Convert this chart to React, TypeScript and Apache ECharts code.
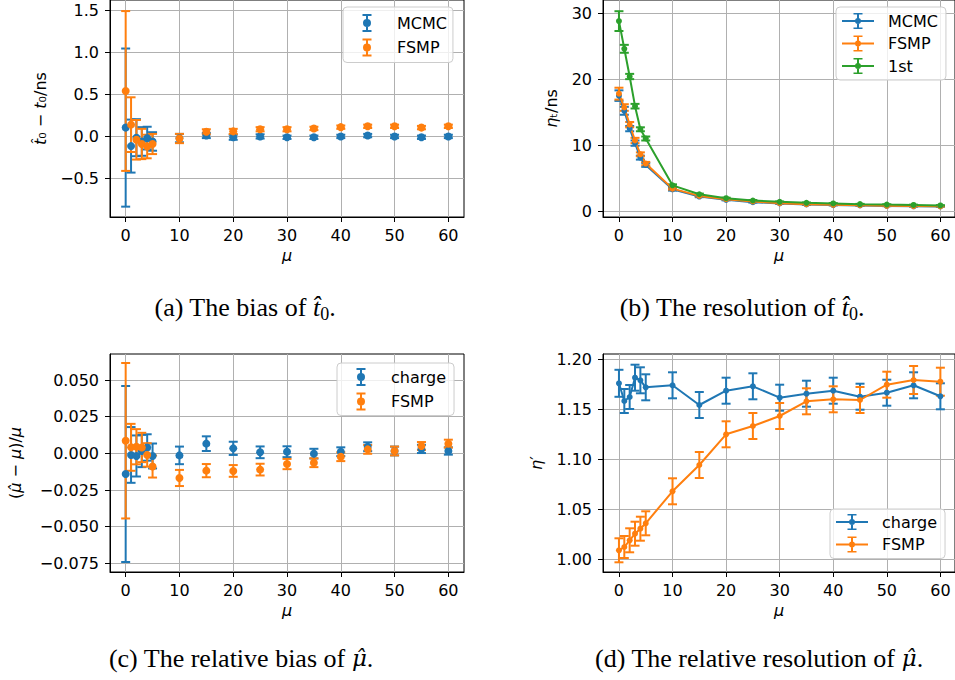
import { useEffect, useRef } from 'react';
import * as echarts from 'echarts';

// ---------------- data ----------------
const MU = [0, 1, 2, 3, 4, 5, 10, 15, 20, 25, 30, 35, 40, 45, 50, 55, 60];

// (a) bias of t0
const biasT0MCMC = [0.105, -0.115, -0.015, -0.06, -0.02, -0.06, -0.02, 0.01, -0.01, 0.0, -0.01, -0.01, 0.0, 0.01, 0.0, -0.01, 0.0];
const biasT0MCMCErr = [0.94, 0.315, 0.22, 0.17, 0.135, 0.11, 0.05, 0.03, 0.03, 0.025, 0.02, 0.02, 0.02, 0.02, 0.02, 0.02, 0.02];
const biasT0FSMP = [0.54, 0.14, -0.04, -0.09, -0.12, -0.09, -0.025, 0.055, 0.06, 0.085, 0.085, 0.095, 0.11, 0.12, 0.12, 0.105, 0.12];
const biasT0FSMPErr = [0.95, 0.325, 0.235, 0.18, 0.14, 0.12, 0.055, 0.03, 0.03, 0.025, 0.025, 0.02, 0.02, 0.02, 0.02, 0.02, 0.02];

// (b) resolution of t0
const resT0MCMC = [17.5, 15.2, 12.5, 10.3, 8.1, 7.0, 3.3, 2.2, 1.7, 1.35, 1.15, 1.0, 0.9, 0.85, 0.78, 0.72, 0.7];
const resT0MCMCErr = [0.8, 0.6, 0.4, 0.4, 0.3, 0.3, 0.2, 0.1, 0.08, 0.07, 0.06, 0.05, 0.05, 0.04, 0.04, 0.04, 0.04];
const resT0FSMP = [17.8, 15.7, 13.1, 10.7, 8.6, 7.2, 3.4, 2.3, 1.8, 1.45, 1.2, 1.05, 0.95, 0.88, 0.8, 0.75, 0.72];
const resT0FSMPErr = [0.9, 0.5, 0.4, 0.4, 0.3, 0.25, 0.15, 0.1, 0.08, 0.07, 0.06, 0.05, 0.05, 0.04, 0.04, 0.04, 0.04];
const resT01st = [28.8, 24.6, 20.4, 15.9, 12.4, 11.0, 3.9, 2.55, 1.95, 1.6, 1.4, 1.25, 1.15, 1.05, 0.98, 0.93, 0.85];
const resT01stErr = [1.5, 0.6, 0.4, 0.35, 0.3, 0.3, 0.15, 0.1, 0.08, 0.07, 0.06, 0.05, 0.05, 0.04, 0.04, 0.04, 0.04];

// (c) relative bias of mu
const biasMuCharge = [-0.0141, -0.0011, -0.0018, 0.0016, 0.004, -0.0018, -0.0014, 0.0066, 0.0034, 0.0007, 0.0011, -0.0002, 0.0011, 0.0045, 0.0016, 0.003, 0.0016];
const biasMuChargeErr = [0.06, 0.019, 0.014, 0.011, 0.009, 0.0085, 0.006, 0.005, 0.0045, 0.004, 0.0037, 0.0033, 0.003, 0.003, 0.003, 0.0028, 0.0025];
const biasMuFSMP = [0.0086, 0.0041, 0.0045, 0.004, -0.0011, -0.009, -0.0168, -0.0118, -0.012, -0.0111, -0.0073, -0.0064, -0.0023, 0.0027, 0.0016, 0.005, 0.0066];
const biasMuFSMPErr = [0.053, 0.016, 0.012, 0.01, 0.008, 0.0075, 0.0055, 0.0045, 0.004, 0.004, 0.0035, 0.003, 0.003, 0.003, 0.003, 0.0027, 0.0027];

// (d) relative resolution of mu
const resMuCharge = [1.1757, 1.158, 1.162, 1.1813, 1.1787, 1.1717, 1.1737, 1.154, 1.1683, 1.1727, 1.1613, 1.1653, 1.1683, 1.1623, 1.1663, 1.1737, 1.1627];
const resMuChargeErr = [0.0135, 0.012, 0.012, 0.013, 0.013, 0.013, 0.013, 0.013, 0.013, 0.013, 0.013, 0.013, 0.013, 0.013, 0.013, 0.013, 0.013];
const resMuFSMP = [1.0087, 1.012, 1.0187, 1.0253, 1.0303, 1.0357, 1.0677, 1.094, 1.1247, 1.133, 1.143, 1.1577, 1.1597, 1.159, 1.1743, 1.179, 1.1773];
const resMuFSMPErr = [0.012, 0.011, 0.012, 0.012, 0.012, 0.012, 0.013, 0.013, 0.013, 0.013, 0.013, 0.013, 0.013, 0.013, 0.013, 0.014, 0.014];

// tick labels
const xTicks = [0, 10, 20, 30, 40, 50, 60];
const yTicksA = [-0.5, 0, 0.5, 1.0, 1.5];
const yTicksB = [0, 10, 20, 30];
const yTicksC = [-0.075, -0.05, -0.025, 0, 0.025, 0.05];
const yTicksD = [1.0, 1.05, 1.1, 1.15, 1.2];

// ---------------- styling ----------------
const BLUE = '#1f77b4';
const ORANGE = '#ff7f0e';
const GREEN = '#2ca02c';
const FONT = 'DejaVu Sans';
const SERIF = 'Liberation Serif';

const ICON_ERR =
  'path://M0 9L0 9ZM32 9L32 9ZM15 1H17V17H15ZM11.5 0H20.5V2H11.5ZM11.5 16H20.5V18H11.5ZM20 9A4 4 0 1 1 12 9A4 4 0 1 1 20 9Z';
const ICON_LINE_ERR =
  'path://M0 9L0 9ZM32 9L32 9ZM0 8H32V10H0ZM15 1H17V17H15ZM11.5 1H20.5V2.6H11.5ZM11.5 15.4H20.5V17H11.5ZM19 9A3 3 0 1 1 13 9A3 3 0 1 1 19 9Z';

const minusFmt = (d: number) => (v: number) => {
  const s = Math.abs(v).toFixed(d);
  return v < -1e-12 ? '\u2212' + s : s;
};

function renderErr(params: any, api: any) {
  const x = api.value(0);
  const y = api.value(1);
  const e = api.value(2);
  const top = api.coord([x, y + e]);
  const bot = api.coord([x, y - e]);
  const cw = 4.5;
  const style = { stroke: api.visual('color'), lineWidth: 2, fill: 'none' };
  return {
    type: 'group',
    children: [
      { type: 'line', shape: { x1: top[0], y1: top[1], x2: bot[0], y2: bot[1] }, style },
      { type: 'line', shape: { x1: top[0] - cw, y1: top[1], x2: top[0] + cw, y2: top[1] }, style },
      { type: 'line', shape: { x1: bot[0] - cw, y1: bot[1], x2: bot[0] + cw, y2: bot[1] }, style },
    ],
  };
}

function errSeries(name: string, g: number, y: number[], e: number[], color: string) {
  return {
    type: 'custom',
    name: name + ' err' + g,
    xAxisIndex: g,
    yAxisIndex: g,
    data: MU.map((x, i) => [x, y[i], e[i]]),
    renderItem: renderErr,
    encode: { x: 0, y: 1 },
    itemStyle: { color },
    silent: true,
    clip: false,
  };
}

function dotSeries(name: string, g: number, y: number[], color: string) {
  return {
    type: 'scatter',
    name,
    xAxisIndex: g,
    yAxisIndex: g,
    data: MU.map((x, i) => [x, y[i]]),
    symbol: 'circle',
    symbolSize: 8,
    itemStyle: { color, opacity: 1 },
    silent: true,
  };
}

function lineSeries(name: string, g: number, y: number[], color: string) {
  return {
    type: 'line',
    name,
    xAxisIndex: g,
    yAxisIndex: g,
    data: MU.map((x, i) => [x, y[i]]),
    symbol: 'circle',
    symbolSize: 6,
    showSymbol: true,
    lineStyle: { color, width: 2 },
    itemStyle: { color },
    silent: true,
  };
}

function xAxisDef(g: number, min: number, max: number) {
  return {
    type: 'value',
    gridIndex: g,
    min,
    max,
    name: '\u03bc',
    nameLocation: 'middle',
    nameGap: 30,
    nameTextStyle: { fontFamily: FONT, fontSize: 16, fontStyle: 'italic', color: '#000' },
    axisLine: { show: true, onZero: false, lineStyle: { color: '#000', width: 1 } },
    axisTick: { show: true, inside: false, length: 5, customValues: xTicks, lineStyle: { color: '#000', width: 1 } },
    axisLabel: { customValues: xTicks, color: '#000', fontFamily: FONT, fontSize: 16, margin: 10, formatter: (v: number) => String(v) },
    splitLine: { show: true, lineStyle: { color: '#b0b0b0', width: 1 } },
  };
}

function yAxisDef(g: number, min: number, max: number, ticks: number[], fmt: any, name: string, nameGap: number) {
  return {
    type: 'value',
    gridIndex: g,
    min,
    max,
    name,
    nameLocation: 'middle',
    nameGap,
    nameTextStyle: {
      fontFamily: FONT,
      fontSize: 16,
      color: '#000',
      rich: {
        i: { fontFamily: FONT, fontSize: 16, fontStyle: 'italic', color: '#000' },
        n: { fontFamily: FONT, fontSize: 16, color: '#000' },
      },
    },
    axisLine: { show: true, onZero: false, lineStyle: { color: '#000', width: 1 } },
    axisTick: { show: true, inside: false, length: 5, customValues: ticks, lineStyle: { color: '#000', width: 1 } },
    axisLabel: { customValues: ticks, color: '#000', fontFamily: FONT, fontSize: 16, margin: 11, formatter: fmt },
    splitLine: { show: true, lineStyle: { color: '#b0b0b0', width: 1 } },
  };
}

function legendDef(items: any[], left: number, top: number, padding: number[]) {
  return {
    orient: 'vertical',
    left,
    top,
    data: items,
    itemWidth: 32,
    itemHeight: 18,
    itemGap: 6.5,
    padding,
    backgroundColor: 'rgba(255,255,255,0.8)',
    borderColor: '#cccccc',
    borderWidth: 1,
    borderRadius: 4,
    selectedMode: false,
    itemStyle: { borderWidth: 0 },
    textStyle: { fontFamily: FONT, fontSize: 16, color: '#000', padding: [0, 0, 0, 9] },
  };
}

function caption(x: number, y: number, text: string) {
  return {
    type: 'text',
    x,
    y,
    silent: true,
    style: {
      text,
      align: 'center',
      verticalAlign: 'middle',
      fontFamily: SERIF,
      fontSize: 26,
      lineHeight: 32,
      fill: '#000',
      rich: {
        it: { fontFamily: SERIF, fontSize: 26, fontStyle: 'italic', lineHeight: 32, fill: '#000' },
        itg: { fontFamily: 'DejaVu Serif', fontSize: 23, fontStyle: 'italic', lineHeight: 32, fill: '#000' },
        sub: { fontFamily: SERIF, fontSize: 18, lineHeight: 17, verticalAlign: 'bottom', fill: '#000' },
      },
    },
  };
}

export default function App() {
  const ref = useRef<HTMLDivElement>(null);

  useEffect(() => {
    if (!ref.current) return;
    const chart = echarts.init(ref.current, undefined, { renderer: 'svg' });

    const gridStyle = { show: true, borderColor: '#000', borderWidth: 1, backgroundColor: 'transparent' };

    const option: any = {
      animation: false,
      textStyle: { fontFamily: FONT },
      grid: [
        { ...gridStyle, left: 110, top: -2, width: 354, height: 219 },
        { ...gridStyle, left: 603, top: -2, width: 353, height: 219 },
        { ...gridStyle, left: 110, top: 354, width: 354, height: 218 },
        { ...gridStyle, left: 603, top: 354, width: 353, height: 218 },
      ],
      xAxis: [
        xAxisDef(0, -2.914, 62.91),
        xAxisDef(1, -2.978, 62.73),
        xAxisDef(2, -2.914, 62.91),
        xAxisDef(3, -2.978, 62.73),
      ],
      yAxis: [
        yAxisDef(0, -0.958, 1.6218, yTicksA, minusFmt(1), '{i|t\u0302}{n|\u2080 \u2212 }{i|t}{n|\u2080/ns}', 62),
        yAxisDef(1, -0.901, 32.0, yTicksB, (v: number) => String(v), '{i|\u03b7}{n|\u209c/ns}', 44),
        yAxisDef(2, -0.08091, 0.06773, yTicksC, minusFmt(3), '{n|(}{i|\u03bc\u0302}{n| \u2212 }{i|\u03bc}{n|)/}{i|\u03bc}', 87),
        yAxisDef(3, 0.987, 1.205, yTicksD, minusFmt(2), '{i|\u03b7}{n|\u2032}', 59),
      ],
      legend: [
        legendDef([{ name: 'MCMC', icon: ICON_ERR }, { name: 'FSMP', icon: ICON_ERR }], 343, 7, [7, 6, 6, 8]),
        legendDef(
          [
            { name: 'MCMC', icon: ICON_LINE_ERR },
            { name: 'FSMP', icon: ICON_LINE_ERR },
            { name: '1st', icon: ICON_LINE_ERR },
          ],
          836,
          7,
          [6, 8, 6, 6]
        ),
        legendDef([{ name: 'charge', icon: ICON_ERR }, { name: 'FSMP', icon: ICON_ERR }], 337, 363, [5, 8, 5, 8]),
        legendDef([{ name: 'charge', icon: ICON_LINE_ERR }, { name: 'FSMP', icon: ICON_LINE_ERR }], 830, 509, [5, 8, 6, 6]),
      ],
      series: [
        // (a)
        errSeries('MCMC', 0, biasT0MCMC, biasT0MCMCErr, BLUE),
        dotSeries('MCMC', 0, biasT0MCMC, BLUE),
        errSeries('FSMP', 0, biasT0FSMP, biasT0FSMPErr, ORANGE),
        dotSeries('FSMP', 0, biasT0FSMP, ORANGE),
        // (b)
        errSeries('MCMC', 1, resT0MCMC, resT0MCMCErr, BLUE),
        lineSeries('MCMC', 1, resT0MCMC, BLUE),
        errSeries('FSMP', 1, resT0FSMP, resT0FSMPErr, ORANGE),
        lineSeries('FSMP', 1, resT0FSMP, ORANGE),
        errSeries('1st', 1, resT01st, resT01stErr, GREEN),
        lineSeries('1st', 1, resT01st, GREEN),
        // (c)
        errSeries('charge', 2, biasMuCharge, biasMuChargeErr, BLUE),
        dotSeries('charge', 2, biasMuCharge, BLUE),
        errSeries('FSMP', 2, biasMuFSMP, biasMuFSMPErr, ORANGE),
        dotSeries('FSMP', 2, biasMuFSMP, ORANGE),
        // (d)
        errSeries('charge', 3, resMuCharge, resMuChargeErr, BLUE),
        lineSeries('charge', 3, resMuCharge, BLUE),
        errSeries('FSMP', 3, resMuFSMP, resMuFSMPErr, ORANGE),
        lineSeries('FSMP', 3, resMuFSMP, ORANGE),
      ],
      graphic: [
        caption(245, 307, '(a) The bias of {it|t\u0302}{sub|0}.'),
        caption(742, 307, '(b) The resolution of {it|t\u0302}{sub|0}.'),
        caption(241, 658, '(c) The relative bias of {itg|\u03bc\u0302}.'),
        caption(759, 658, '(d) The relative resolution of {itg|\u03bc\u0302}.'),
      ],
    };

    chart.setOption(option);
    return () => chart.dispose();
  }, []);

  return (
    <div
      ref={ref}
      style={{ position: 'absolute', left: 0, top: 0, width: 955, height: 680, background: '#fff' }}
    />
  );
}
